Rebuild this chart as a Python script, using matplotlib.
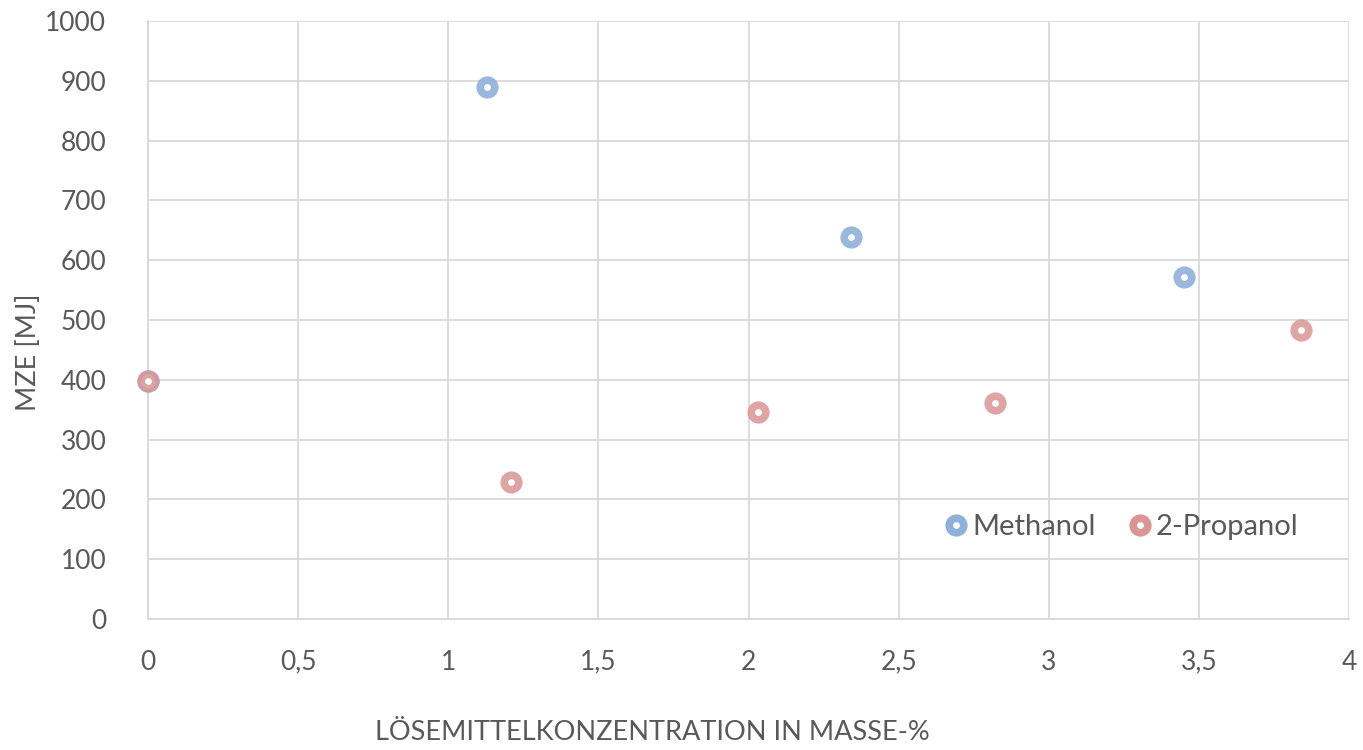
import matplotlib
matplotlib.use("Agg")
import matplotlib.pyplot as plt
from matplotlib.lines import Line2D

plt.rcParams['font.family'] = ['Lato', 'DejaVu Sans']

# Solvent concentration (mass-%) and MZE [MJ]
methanol_x = [0, 1.13, 2.34, 3.45]
methanol_y = [398, 890, 639, 572]
propanol_x = [0, 1.21, 2.03, 2.82, 3.84]
propanol_y = [398, 229, 346, 361, 483]

x_ticks = [0, 0.5, 1, 1.5, 2, 2.5, 3, 3.5, 4]
x_tick_labels = ["0", "0,5", "1", "1,5", "2", "2,5", "3", "3,5", "4"]
y_ticks = list(range(0, 1001, 100))

blue = "#8FB0D9"
red = "#D99694"
text_col = "#595959"
grid_col = "#D9D9D9"

fig = plt.figure(figsize=(13.63, 7.5), dpi=100)
ax = fig.add_axes([148 / 1363, 131 / 750, (1349 - 148) / 1363, (619 - 21) / 750])

mk = dict(marker='o', linestyle='none', markersize=10.5, markeredgewidth=5.5,
          markerfacecolor='white', clip_on=False)
ax.plot(methanol_x, methanol_y, color=blue, markeredgecolor=blue, alpha=0.9,
        zorder=3, **mk)
ax.plot(propanol_x, propanol_y, color=red, markeredgecolor=red, alpha=0.85,
        zorder=4, **mk)

ax.set_xlim(0, 4)
ax.set_ylim(0, 1000)
ax.set_xticks(x_ticks)
ax.set_xticklabels(x_tick_labels)
ax.set_yticks(y_ticks)
ax.grid(True, color=grid_col, linewidth=1.3)
ax.set_axisbelow(True)
for side in ("top", "right"):
    ax.spines[side].set_visible(False)
for side in ("left", "bottom"):
    ax.spines[side].set_color(grid_col)
    ax.spines[side].set_linewidth(1.3)
ax.tick_params(length=0, labelsize=19, colors=text_col)
ax.tick_params(axis='y', pad=30)
ax.tick_params(axis='x', pad=22)

fig.text(652 / 1363, 1 - 733 / 750, "LÖSEMITTELKONZENTRATION IN MASSE-%",
         ha='center', va='center', fontsize=19.5, color=text_col)
fig.text(28 / 1363, 1 - 352 / 750, "MZE [MJ]", ha='center', va='center',
         rotation=90, fontsize=19.5, color=text_col)

handles = [
    Line2D([], [], marker='o', linestyle='none', markersize=10.5, markeredgewidth=5.5,
           markerfacecolor='white', markeredgecolor=blue, label='Methanol'),
    Line2D([], [], marker='o', linestyle='none', markersize=10.5, markeredgewidth=5.5,
           markerfacecolor='white', markeredgecolor=red, label='2-Propanol'),
]
leg = ax.legend(handles=handles, loc='center', bbox_to_anchor=(1120 / 1363, 1 - 527 / 750),
                bbox_transform=fig.transFigure, ncol=2, frameon=False, fontsize=21,
                handletextpad=0.05, columnspacing=1.0, handlelength=1.0)
for t in leg.get_texts():
    t.set_color(text_col)

fig.savefig("out.png", dpi=100)
